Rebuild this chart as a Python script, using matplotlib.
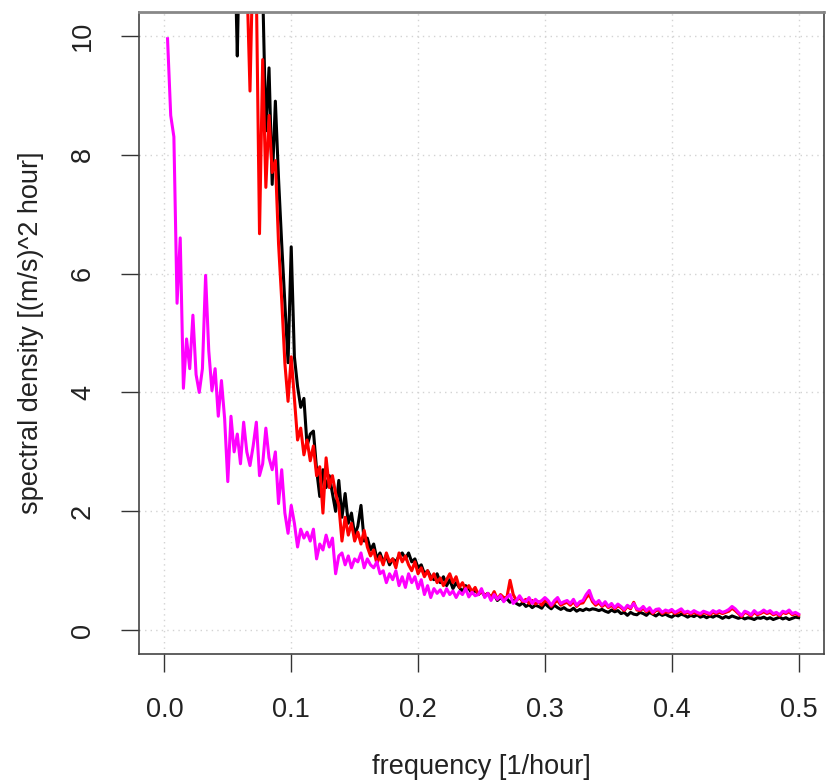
import numpy as np
import matplotlib
matplotlib.use("Agg")
import matplotlib.pyplot as plt

plt.rcParams['font.family'] = ['Liberation Sans', 'DejaVu Sans']

# frequency grid of the periodogram [1/hour]
freq = np.arange(1, 201) * 0.0025

# spectral density, series 1 (black)
spec_black = [
    38, 35, 33, 30, 31, 28, 26, 27, 24, 22,
    23, 20, 19, 20, 17, 16, 17, 15, 14, 13,
    14, 12, 9.66, 12.5, 11.5, 12, 11, 10.6, 11.2, 10.4,
    10.8, 8.4, 9.46, 7.5, 8.9, 7.6, 6.5, 5.5, 4.5, 6.45,
    4.6, 4.1, 3.75, 3.9, 3.1, 3.3, 3.35, 2.7, 2.25, 2.7,
    2.4, 2.6, 2.3, 2.0, 2.52, 1.9, 2.3, 1.8, 1.97, 1.6,
    1.75, 2.1, 1.5, 1.55, 1.35, 1.45, 1.2, 1.3, 1.15, 1.25,
    1.1, 1.2, 1.15, 1.25, 1.3, 1.2, 1.3, 1.15, 1.2, 1.05,
    1.1, 0.95, 1.0, 0.9, 0.85, 0.95, 0.8, 0.9, 0.75, 0.85,
    0.7, 0.8, 0.72, 0.65, 0.75, 0.7, 0.62, 0.68, 0.6, 0.65,
    0.58, 0.62, 0.55, 0.6, 0.5, 0.55, 0.5, 0.53, 0.47, 0.5,
    0.45, 0.42, 0.46, 0.4, 0.43, 0.38, 0.42, 0.4, 0.37, 0.45,
    0.4, 0.36, 0.42, 0.38, 0.35, 0.38, 0.34, 0.33, 0.37, 0.32,
    0.35, 0.33, 0.36, 0.34, 0.36, 0.35, 0.33, 0.35, 0.32, 0.3,
    0.34, 0.31, 0.33, 0.28, 0.3, 0.25, 0.3, 0.27, 0.26, 0.3,
    0.28, 0.25, 0.3, 0.27, 0.24, 0.28, 0.25, 0.27, 0.24, 0.22,
    0.26, 0.24, 0.27, 0.25, 0.22, 0.25, 0.23, 0.26, 0.22, 0.24,
    0.21, 0.24, 0.22, 0.25, 0.23, 0.2, 0.23, 0.21, 0.24, 0.22,
    0.2, 0.22, 0.19, 0.21, 0.2, 0.18, 0.21, 0.2, 0.22, 0.19,
    0.21, 0.18, 0.2, 0.22, 0.19, 0.21, 0.18, 0.2, 0.22, 0.21,
]

# spectral density, series 2 (red)
spec_red = [
    36, 34, 32, 29, 30, 27, 25, 26, 23, 21,
    22, 19.5, 18.5, 19, 16.5, 15.5, 16, 14.5, 13.5, 12.5,
    13, 11.8, 11.5, 12, 10.8, 11, 9.07, 11.5, 10.8, 6.67,
    9.6, 7.45, 8.66, 7.7, 7.9, 6.5, 5.55, 4.49, 3.85, 4.6,
    3.9, 3.2, 3.4, 2.95, 3.2, 2.85, 3.1, 2.6, 2.75, 1.97,
    2.9, 2.4, 2.6, 2.3, 2.1, 1.5, 1.9, 1.6, 1.8, 1.5,
    1.65, 1.45, 1.68, 1.4, 1.25, 1.35, 1.12, 1.25, 1.1, 1.3,
    1.15, 1.2, 1.05, 1.3, 1.15, 1.25, 1.1, 1.0, 1.15, 0.95,
    1.05, 0.9, 1.0, 0.85, 0.95, 0.8, 0.88, 0.75, 0.85, 0.95,
    0.8, 0.9, 0.72, 0.8, 0.68, 0.75, 0.65, 0.72, 0.6, 0.66,
    0.58, 0.62, 0.55, 0.65, 0.52, 0.6, 0.55, 0.55, 0.84, 0.6,
    0.5, 0.55, 0.48, 0.52, 0.45, 0.5, 0.44, 0.48, 0.42, 0.5,
    0.47, 0.4, 0.46, 0.5, 0.42, 0.45, 0.47, 0.42, 0.48, 0.4,
    0.45, 0.46, 0.55, 0.6, 0.48, 0.42, 0.46, 0.4, 0.44, 0.38,
    0.42, 0.36, 0.41, 0.38, 0.33, 0.4, 0.36, 0.47, 0.34, 0.33,
    0.37, 0.31, 0.35, 0.28, 0.33, 0.34, 0.28, 0.31, 0.3, 0.32,
    0.28, 0.3, 0.33, 0.28, 0.3, 0.27, 0.3, 0.28, 0.26, 0.3,
    0.28, 0.26, 0.3, 0.28, 0.3, 0.28, 0.3, 0.32, 0.37, 0.33,
    0.28, 0.23, 0.3, 0.28, 0.24, 0.3, 0.26, 0.28, 0.31, 0.28,
    0.3, 0.26, 0.28, 0.24, 0.3, 0.28, 0.31, 0.26, 0.28, 0.25,
]

# spectral density, series 3 (magenta)
spec_magenta = [
    9.95, 8.66, 8.3, 5.5, 6.6, 4.07, 4.9, 4.4, 5.3, 4.3,
    4.0, 4.4, 5.97, 4.7, 4.03, 4.4, 3.6, 4.2, 3.56, 2.5,
    3.6, 3.0, 3.3, 2.8, 3.5, 3.0, 2.77, 3.1, 3.5, 2.6,
    2.8, 3.4, 2.9, 2.7, 3.0, 2.13, 2.7, 1.97, 1.63, 2.1,
    1.8, 1.4, 1.7, 1.55, 1.65, 1.5, 1.7, 1.2, 1.45, 1.35,
    1.6, 1.4, 1.55, 0.95, 1.25, 1.3, 1.1, 1.25, 1.05, 1.2,
    1.15, 1.3, 1.05, 1.2, 1.1, 1.05, 1.15, 0.95, 1.0, 0.8,
    0.95, 0.85, 1.0, 0.75, 0.9, 0.72, 0.95, 0.8, 0.9, 0.7,
    0.85, 0.6, 0.75, 0.55, 0.7, 0.62, 0.68, 0.58, 0.7, 0.6,
    0.66, 0.55, 0.65, 0.6, 0.7, 0.56, 0.64, 0.58, 0.6, 0.7,
    0.55, 0.62, 0.5, 0.6, 0.52, 0.58, 0.48, 0.55, 0.6, 0.45,
    0.5, 0.58, 0.5, 0.48, 0.55, 0.45, 0.52, 0.47, 0.5, 0.55,
    0.5, 0.42, 0.5, 0.55, 0.45, 0.48, 0.5, 0.45, 0.52, 0.42,
    0.48, 0.5, 0.6, 0.67, 0.52, 0.45, 0.5, 0.42, 0.48, 0.4,
    0.45, 0.38, 0.44, 0.4, 0.35, 0.42, 0.38, 0.45, 0.36, 0.35,
    0.4, 0.33, 0.38, 0.3, 0.35, 0.36, 0.3, 0.34, 0.32, 0.35,
    0.3, 0.33, 0.36, 0.3, 0.32, 0.29, 0.33, 0.3, 0.28, 0.32,
    0.3, 0.28, 0.33, 0.3, 0.33, 0.3, 0.32, 0.35, 0.4, 0.36,
    0.3, 0.25, 0.32, 0.3, 0.26, 0.33, 0.28, 0.3, 0.34, 0.3,
    0.33, 0.28, 0.3, 0.26, 0.32, 0.3, 0.34, 0.28, 0.3, 0.27,
]

xticks = [0.0, 0.1, 0.2, 0.3, 0.4, 0.5]
yticks = [0, 2, 4, 6, 8, 10]

fig = plt.figure(figsize=(8.26, 7.83), dpi=100)
ax = fig.add_axes([139 / 826, 1 - 654 / 783, (824 - 139) / 826, (654 - 12) / 783])

# R style dotted grid
for x in xticks:
    ax.axvline(x, color='#d3d3d3', lw=1, ls=(0, (1, 3)), zorder=0)
for y in yticks:
    ax.axhline(y, color='#d3d3d3', lw=1, ls=(0, (1, 3)), zorder=0)

ax.plot(freq, spec_black, color='black', lw=2.2)
ax.plot(freq, spec_red, color='red', lw=2.2)
ax.plot(freq, spec_magenta, color='magenta', lw=2.2)

ax.set_xlim(-0.02, 0.52)
ax.set_ylim(-0.4, 10.4)
ax.set_xticks(xticks)
ax.set_xticklabels(['0.0', '0.1', '0.2', '0.3', '0.4', '0.5'])
ax.set_yticks(yticks)
ax.set_yticklabels([str(v) for v in yticks], rotation=90, va='center')

ax.tick_params(axis='both', length=13, width=1, color='#333333',
               labelsize=19.5, labelcolor='#222222', pad=18)

for sp in ax.spines.values():
    sp.set_color('#444444')
    sp.set_linewidth(1.2)
ax.spines['top'].set_color('#888888')
ax.spines['top'].set_linewidth(2)

ax.set_xlabel('frequency [1/hour]', fontsize=19.5, color='#222222', labelpad=22)
ax.set_ylabel('spectral density [(m/s)^2 hour]', fontsize=19.5, color='#222222', labelpad=19)

fig.savefig('out.png', dpi=100)
